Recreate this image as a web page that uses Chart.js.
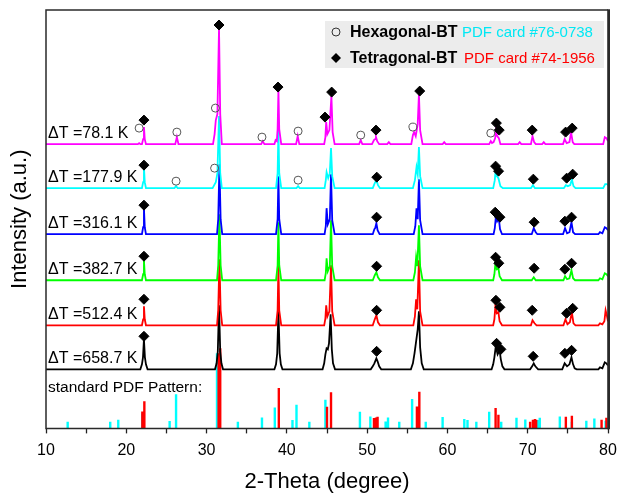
<!DOCTYPE html>
<html>
<head>
<meta charset="utf-8">
<script src="https://cdn.jsdelivr.net/npm/chart.js@4.4.1/dist/chart.umd.min.js"></script>
<style>
  html, body { margin: 0; padding: 0; background: #fff; }
  #wrap { width: 618px; height: 495px; }
</style>
</head>
<body>
<div id="wrap"><canvas id="xrd"></canvas></div>
<script>
// sample names, colours and vertical offsets of the stacked patterns (top to bottom)
const sampleLabels = ['ΔT =78.1 K', 'ΔT =177.9 K', 'ΔT =316.1 K', 'ΔT =382.7 K', 'ΔT =512.4 K', 'ΔT =658.7 K'];
const sampleColors = ['#ff00ff', '#00ffff', '#0000ff', '#00ff00', '#ff0000', '#000000'];
const sampleOffsets = [284, 240, 194, 148, 103, 59];

// measured patterns: [2theta, intensity above own baseline]
const pattern781 = [[10,0],[21.45,0],[21.6,1],[21.75,0],[21.95,0],[22.1,5],[22.2,17],[22.3,5],[22.45,0],[26.1,0],[26.3,7],[26.5,0],[30.8,0],[31.0,10],[31.15,24],[31.35,30],[31.55,116],[31.7,30],[31.9,0],[36.8,0],[37.0,3],[37.2,0],[38.45,0],[38.6,4],[38.75,3],[38.85,15],[38.95,54],[39.05,15],[39.3,0],[41.15,0],[41.35,8],[41.55,0],[44.65,0],[44.8,7],[44.9,22],[45.05,10],[45.3,14],[45.55,48],[45.7,12],[45.95,0],[49.0,0],[49.2,4],[49.4,0],[50.6,0],[50.85,4],[51.0,5],[51.1,7],[51.25,3],[51.5,0],[52.5,0],[52.7,2],[52.9,0],[55.5,0],[55.7,9],[55.85,12],[56.05,8],[56.3,20],[56.45,50],[56.6,14],[56.9,0],[59.4,0],[59.6,2],[59.8,0],[65.2,0],[65.4,3],[65.55,1],[65.75,2],[65.95,6],[66.05,14],[66.2,8],[66.4,6],[66.6,0],[68.8,0],[69.0,2],[69.2,0],[70.4,0],[70.6,8],[70.8,2],[71.0,0],[71.8,0],[72.0,2],[72.2,0],[74.4,0],[74.6,5],[74.85,1],[75.2,2],[75.4,12],[75.6,2],[75.8,0],[79.4,0],[79.6,7],[79.8,6],[80,3]];
const pattern1779 = [[10,0],[21.95,0],[22.1,6],[22.2,21],[22.3,6],[22.45,0],[26.0,0],[26.2,2],[26.4,0],[30.75,0],[30.95,3],[31.15,6],[31.35,15],[31.55,72],[31.7,15],[31.9,0],[38.65,0],[38.85,15],[38.95,58],[39.05,15],[39.3,0],[41.2,0],[41.4,2],[41.6,0],[44.7,0],[44.85,8],[44.95,16],[45.15,10],[45.35,15],[45.5,40],[45.65,12],[45.95,0],[50.7,0],[50.95,5],[51.15,8],[51.35,3],[51.6,0],[55.7,0],[55.95,8],[56.15,21],[56.3,14],[56.45,41],[56.6,12],[56.9,0],[65.7,0],[65.9,8],[66.0,18],[66.15,12],[66.35,10],[66.6,2],[66.9,0],[70.4,0],[70.65,3],[70.9,0],[74.5,0],[74.75,3],[75.0,2],[75.3,3],[75.5,9],[75.7,2],[75.95,0],[79.4,0],[79.65,4],[79.85,4],[80,3]];
const pattern3161 = [[10,0],[21.95,0],[22.1,7],[22.2,26],[22.3,7],[22.45,0],[31.3,0],[31.45,15],[31.6,70],[31.75,15],[31.95,0],[38.65,0],[38.85,15],[38.95,58],[39.05,15],[39.3,0],[44.7,0],[44.85,8],[44.95,26],[45.1,10],[45.35,15],[45.5,60],[45.65,14],[45.95,0],[50.7,0],[50.9,5],[51.0,6],[51.15,11],[51.3,4],[51.55,0],[55.8,0],[56.0,8],[56.15,26],[56.3,15],[56.45,55],[56.6,14],[56.9,0],[65.75,0],[65.9,6],[66.05,19],[66.2,13],[66.4,16],[66.55,5],[66.8,0],[70.5,0],[70.75,6],[71.0,2],[71.2,0],[74.4,0],[74.65,6],[74.9,1],[75.2,2],[75.45,12],[75.65,2],[75.9,0],[78.8,0],[79.0,2],[79.3,1],[79.6,7],[79.8,6],[80,4]];
const pattern3827 = [[10,0],[21.95,0],[22.1,6],[22.2,20],[22.3,6],[22.45,0],[31.3,0],[31.45,15],[31.6,66],[31.75,15],[31.95,0],[38.65,0],[38.85,15],[38.95,58],[39.05,15],[39.3,0],[44.7,0],[44.85,7],[44.95,22],[45.1,9],[45.35,14],[45.5,60],[45.65,14],[45.95,0],[50.7,0],[50.95,5],[51.15,8],[51.35,3],[51.6,0],[55.75,0],[55.95,8],[56.1,23],[56.25,14],[56.45,55],[56.6,14],[56.9,0],[65.7,0],[65.85,6],[65.98,17],[66.15,11],[66.35,12],[66.5,4],[66.8,0],[70.5,0],[70.75,3],[71.0,0],[74.45,0],[74.65,4],[74.9,1],[75.2,2],[75.45,10],[75.65,2],[75.9,0],[78.8,0],[79.0,2],[79.3,1],[79.6,7],[79.8,6],[80,4]];
const pattern5124 = [[10,0],[21.95,0],[22.1,6],[22.2,19],[22.3,6],[22.45,0],[31.3,0],[31.45,15],[31.6,66],[31.75,15],[31.95,0],[38.65,0],[38.85,15],[38.95,60],[39.05,15],[39.3,0],[44.65,0],[44.8,7],[44.9,20],[45.05,9],[45.3,14],[45.5,60],[45.65,14],[45.95,0],[50.7,0],[50.95,6],[51.15,10],[51.35,3],[51.6,0],[55.75,0],[55.95,9],[56.1,26],[56.25,16],[56.45,65],[56.6,14],[56.9,0],[65.7,0],[65.85,6],[65.98,20],[66.15,12],[66.35,13],[66.5,4],[66.8,0],[70.4,0],[70.6,5],[70.85,2],[71.1,0],[74.45,0],[74.7,6],[74.95,1],[75.25,3],[75.5,13],[75.7,2],[75.95,0],[78.8,0],[79.0,2],[79.3,1],[79.55,4],[79.7,15],[79.85,10],[80,4]];
const pattern6587 = [[10,0],[21.75,0],[21.95,5],[22.08,12],[22.2,30],[22.32,12],[22.45,5],[22.65,0],[31.05,0],[31.25,6],[31.4,18],[31.55,64],[31.7,18],[31.85,6],[32.05,0],[38.45,0],[38.65,5],[38.8,16],[38.95,58],[39.1,16],[39.25,5],[39.45,0],[44.45,0],[44.65,6],[44.8,15],[44.95,21],[45.1,20],[45.25,26],[45.45,55],[45.6,20],[45.75,6],[46.0,0],[50.45,0],[50.7,3],[50.9,6],[51.05,9],[51.15,11],[51.3,8],[51.5,3],[51.75,0],[55.45,0],[55.7,6],[55.9,16],[56.1,28],[56.3,40],[56.45,58],[56.6,22],[56.8,6],[57.05,0],[65.5,0],[65.7,5],[65.85,12],[66.02,23],[66.25,15],[66.5,19],[66.65,10],[66.85,3],[67.1,0],[70.3,0],[70.55,3],[70.75,6],[70.95,3],[71.3,0],[74.3,0],[74.6,6],[74.9,3],[75.2,5],[75.45,12],[75.65,5],[75.85,1],[76.1,0],[78.8,0],[79.0,2],[79.3,1],[79.6,7],[79.8,6],[80,4]];
const patterns = [pattern781, pattern1779, pattern3161, pattern3827, pattern5124, pattern6587];

// phase markers, placed in the stacked intensity units
const tetragonalMarks = [[22.2,308],[31.55,403],[38.9,341],[44.75,311],[45.58,336],[51.1,298],[56.55,337],[66.1,305],[66.45,298],[70.56,298],[74.72,296],[75.54,300],
  [22.2,263],[51.2,251],[66.0,262],[66.37,257],[70.7,249],[74.85,250],[75.6,254],
  [22.2,223],[51.18,211],[65.95,216],[66.54,211],[70.8,206],[74.63,207],[75.46,211],
  [22.2,172],[51.18,162],[66.0,171],[66.4,165],[70.8,160],[74.63,159],[75.46,165],
  [22.2,129],[51.18,118],[66.04,128],[66.54,121],[70.56,118],[74.84,115],[75.6,120],
  [22.2,92],[51.18,77],[66.12,85],[66.66,79],[70.68,72],[74.63,75],[75.46,78]];
const hexagonalMarks = [[21.6,300],[26.3,296],[31.1,320],[36.9,291],[41.4,297],[49.2,293],[55.7,301],[65.4,295],
  [26.2,247],[31.0,260],[41.4,248]];

// standard PDF cards: line positions and relative heights
const hexCardPos = [12.7,18.0,19.0,22.0,25.4,26.2,31.3,33.9,36.9,38.5,40.7,41.2,42.8,44.8,49.1,50.4,52.3,52.6,54.0,55.6,57.3,59.4,62.1,62.5,63.6,65.2,66.7,68.6,69.7,71.2,71.5,74.0,75.5,77.3,78.3,79.7];
const hexCardInt = [6.7,6.7,8.7,15,7.3,34,75,6.7,11,21,8.3,23.7,6.7,28.5,16.7,12,7,11,6.7,29.3,6.7,11.3,9.3,8.3,6.7,16.7,6.7,10.7,9,8.3,10.7,12,6.7,7.7,10,7.7];
const tetCardPos = [22.0,22.25,31.5,31.7,39.0,45.0,45.5,50.85,51.1,51.3,56.2,56.5,66.0,66.35,70.3,70.65,70.9,71.05,74.75,75.5,79.2,79.8];
const tetCardInt = [17,27,75,80,40.3,21.7,36,10.3,11,11.7,22,36.7,20.3,13.7,6.7,8.7,9.3,8.7,11.7,12.7,8.7,10.7];

const xTicksStep = 5;

function sticks(pos, ints) {
  const pts = [];
  pos.forEach((p, i) => {
    pts.push({x: p, y: 0}, {x: p, y: ints[i]}, {x: p, y: null});
  });
  return pts;
}

const FONT = '"Liberation Sans", Arial, sans-serif';
Chart.defaults.font.family = FONT;
Chart.defaults.color = '#000';

const datasets = [
  {
    label: 'Hexagonal-BT',
    data: hexagonalMarks.map(([x, y]) => ({x, y})),
    pointStyle: 'circle', pointRadius: 4,
    backgroundColor: 'rgba(255,255,255,0)', borderColor: '#555', borderWidth: 1
  },
  {
    label: 'Tetragonal-BT',
    data: tetragonalMarks.map(([x, y]) => ({x, y})),
    pointStyle: 'rectRot', pointRadius: 5,
    backgroundColor: '#000', borderColor: '#000', borderWidth: 1
  }
];
patterns.forEach((pat, i) => {
  datasets.push({
    label: sampleLabels[i],
    data: pat.map(([x, y]) => ({x, y: y + sampleOffsets[i]})),
    showLine: true, pointRadius: 0,
    borderColor: sampleColors[i], borderWidth: 1.8, tension: 0
  });
});
datasets.push({
  label: 'PDF #74-1956',
  data: sticks(tetCardPos, tetCardInt),
  showLine: true, spanGaps: false, pointRadius: 0,
  borderColor: '#ff0000', borderWidth: 2.4, borderCapStyle: 'butt'
});
datasets.push({
  label: 'PDF #76-0738',
  data: sticks(hexCardPos, hexCardInt),
  showLine: true, spanGaps: false, pointRadius: 0,
  borderColor: '#00ffff', borderWidth: 2.4, borderCapStyle: 'butt'
});

// frame, sample captions and phase key
const framePlugin = {
  id: 'frame',
  afterDatasetsDraw(chart) {
    const {ctx, chartArea: a, scales: {y}} = chart;
    ctx.save();
    ctx.strokeStyle = '#2a2a2a';
    ctx.lineWidth = 1.5;
    ctx.beginPath();
    ctx.moveTo(a.right, a.top);
    ctx.lineTo(a.left, a.top);
    ctx.lineTo(a.left, a.bottom);
    ctx.lineTo(a.right, a.bottom);
    ctx.stroke();
    ctx.lineWidth = 2.8;
    ctx.beginPath();
    ctx.moveTo(a.right + 0.6, a.top - 0.75);
    ctx.lineTo(a.right + 0.6, a.bottom + 0.75);
    ctx.stroke();

    ctx.fillStyle = '#000';
    ctx.textBaseline = 'middle';
    ctx.textAlign = 'left';
    ctx.font = '16px ' + FONT;
    sampleLabels.forEach((t, i) => {
      ctx.fillText(t, a.left + 2, y.getPixelForValue(sampleOffsets[i] + 11));
    });
    ctx.font = '15.5px ' + FONT;
    ctx.fillText('standard PDF Pattern:', a.left + 2, y.getPixelForValue(41));

    // key box
    ctx.fillStyle = '#ececec';
    ctx.fillRect(325, 21, 279, 47);
    ctx.strokeStyle = '#333';
    ctx.lineWidth = 1;
    ctx.beginPath();
    ctx.arc(336, 32, 4, 0, Math.PI * 2);
    ctx.stroke();
    ctx.fillStyle = '#000';
    ctx.beginPath();
    ctx.moveTo(336, 53); ctx.lineTo(341, 58); ctx.lineTo(336, 63); ctx.lineTo(331, 58);
    ctx.closePath();
    ctx.fill();
    ctx.font = 'bold 16px ' + FONT;
    ctx.fillText('Hexagonal-BT', 350, 33);
    ctx.fillText('Tetragonal-BT', 350, 59);
    ctx.font = '15px ' + FONT;
    ctx.fillStyle = '#00e8f4';
    ctx.fillText('PDF card #76-0738', 462, 33);
    ctx.fillStyle = '#ff0000';
    ctx.fillText('PDF card #74-1956', 464, 59);
    ctx.restore();
  }
};

new Chart(document.getElementById('xrd'), {
  type: 'scatter',
  data: {datasets},
  options: {
    responsive: true,
    maintainAspectRatio: false,
    animation: false,
    events: [],
    layout: {padding: {left: 0, right: 10, top: 10, bottom: 0}},
    plugins: {legend: {display: false}, tooltip: {enabled: false}},
    scales: {
      x: {
        type: 'linear',
        min: 10, max: 80,
        offset: false,
        afterFit(scale) {
          // the "80" label may hang into the right margin
          scale.paddingRight = 0;
        },
        ticks: {
          stepSize: xTicksStep,
          autoSkip: false,
          maxRotation: 0,
          padding: 8,
          font: {size: 16},
          color: '#000',
          callback: v => (v % 10 === 0 ? v : '')
        },
        grid: {drawOnChartArea: false, drawTicks: true, tickLength: 5, tickWidth: 1.3, tickColor: '#222', offset: false},
        border: {display: false},
        title: {display: true, text: '2-Theta (degree)', font: {size: 22}, color: '#000', padding: {top: 0, bottom: 0}}
      },
      y: {
        min: 0, max: 418,
        ticks: {display: false},
        grid: {display: false, drawTicks: false},
        border: {display: false},
        title: {display: true, text: 'Intensity (a.u.)', font: {size: 22}, color: '#000', padding: {top: 7, bottom: 12.6}}
      }
    }
  },
  plugins: [framePlugin]
});
</script>
</body>
</html>
